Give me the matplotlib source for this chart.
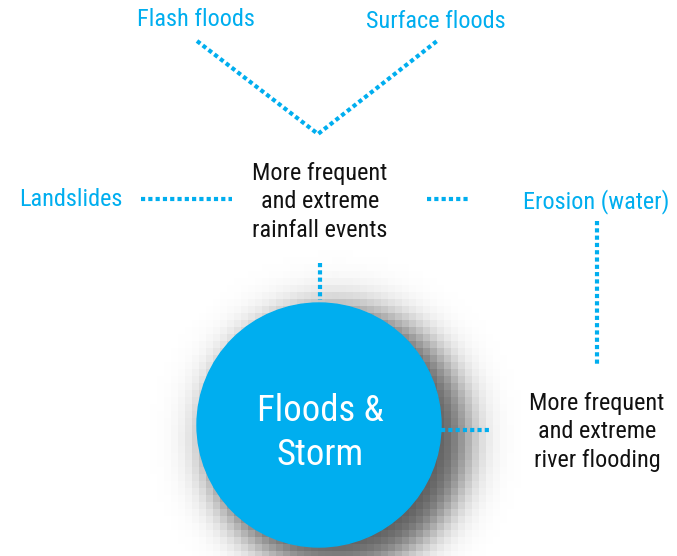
"""Flood & storm impact diagram."""

import numpy as np
import matplotlib.pyplot as plt
from matplotlib import font_manager
from matplotlib.patches import Circle

CYAN = "#00AEEF"

# node labels and their centres (pixel coordinates of the 677x556 canvas)
hazard_labels = ["Flash floods", "Surface floods", "Landslides", "Erosion (water)"]
hazard_xy = [(196, 20), (436, 21), (71, 199), (596, 202)]

driver_labels = ["More frequent\nand extreme\nrainfall events",
                 "More frequent\nand extreme\nriver flooding"]
driver_xy = [(320, 202), (597, 432)]

hub_label = "Floods &\nStorm"
hub_xy = (319, 425)
hub_radius = 122

# dotted connectors, each a list of (x, y) points
links = [
    [(197, 41), (318, 134), (437, 41)],
    [(141, 199), (232, 199)],
    [(427, 199), (468, 199)],
    [(320, 263), (320, 300)],
    [(597, 221), (597, 366)],
    [(441, 430), (491, 430)],
]


def pick_font():
    names = {f.name for f in font_manager.fontManager.ttflist}
    for name in ["Liberation Sans Narrow", "Roboto Condensed", "Roboto"]:
        if name in names:
            return [name, "DejaVu Sans"]
    return ["DejaVu Sans"]


def main():
    plt.rcParams["font.family"] = pick_font()
    fig = plt.figure(figsize=(6.77, 5.56), dpi=100)
    ax = fig.add_axes([0, 0, 1, 1])

    # soft, blocky drop shadow behind the hub
    step = 7
    x0, y0 = 150, 250
    xs = np.arange(x0, 570, step) + step / 2
    ys = np.arange(y0, 570, step) + step / 2
    gx, gy = np.meshgrid(xs, ys)
    d = np.hypot(gx - (hub_xy[0] + 18), gy - (hub_xy[1] + 14))
    alpha = 0.66 * 0.5 * (1 - np.tanh((d - hub_radius - 8) / 22))
    img = np.zeros(gx.shape + (4,))
    img[..., 3] = alpha
    ax.imshow(img, extent=(x0, x0 + len(xs) * step, y0 + len(ys) * step, y0),
              interpolation="nearest", zorder=1)
    ax.set_xlim(0, 677)
    ax.set_ylim(556, 0)
    ax.axis("off")

    ax.add_patch(Circle(hub_xy, hub_radius, color=CYAN, zorder=2))
    ax.text(hub_xy[0] + 1, hub_xy[1] + 8, hub_label, color="white", fontsize=26.5,
            ha="center", va="center", linespacing=1.28, zorder=3)

    for pts in links:
        x, y = zip(*pts)
        ax.plot(x, y, color=CYAN, lw=3.0, linestyle=(0, (1, 0.75)),
                dash_capstyle="butt", zorder=2)

    for label, (x, y) in zip(hazard_labels, hazard_xy):
        ax.text(x, y, label, color=CYAN, fontsize=17.5, ha="center", va="center")

    for label, (x, y) in zip(driver_labels, driver_xy):
        ax.text(x, y, label, color="#111111", fontsize=17.5, ha="center",
                va="center", linespacing=1.33)

    fig.savefig("out.png", dpi=100)


if __name__ == "__main__":
    main()
